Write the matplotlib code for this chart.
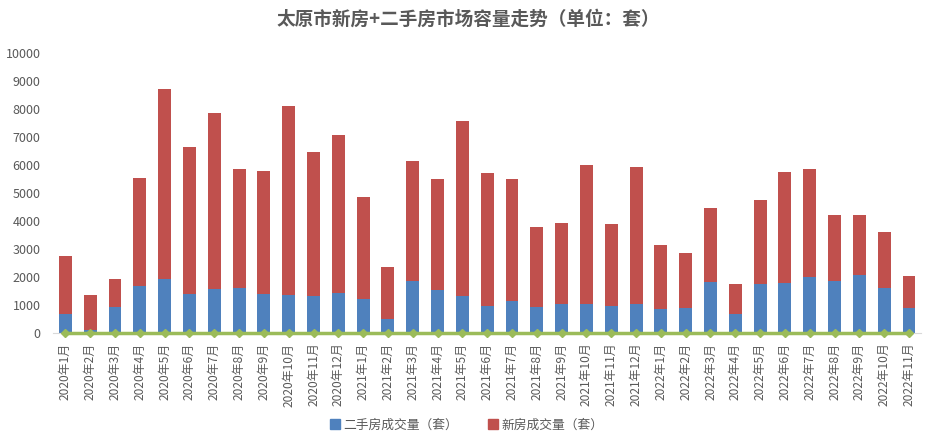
import numpy as np
import matplotlib
matplotlib.use("Agg")
import matplotlib.pyplot as plt
from matplotlib.lines import Line2D

plt.rcParams['font.family'] = ['Noto Sans CJK SC', 'DejaVu Sans']

# 月份
months = [f"{y}年{m}月" for y in (2020, 2021) for m in range(1, 13)] + \
         [f"2022年{m}月" for m in range(1, 12)]

# 二手房成交量（套）
second_hand = [666, 95, 915, 1677, 1914, 1379, 1558, 1605, 1379, 1344, 1320, 1415,
               1201, 487, 1843, 1534, 1320, 963, 1130, 915, 1034, 1034, 963, 1034,
               844, 892, 1819, 678, 1748, 1772, 1986, 1843, 2057, 1605, 892]

# 合计（柱顶高度）
total = [2735, 1344, 1914, 5517, 8692, 6623, 7836, 5838, 5767, 8085, 6444, 7051,
         4839, 2342, 6123, 5481, 7550, 5695, 5481, 3769, 3912, 5981, 3876, 5909,
         3127, 2842, 4447, 1736, 4732, 5731, 5838, 4197, 4197, 3591, 2021]

# 新房成交量（套）
new_house = [t - s for t, s in zip(total, second_hand)]

# 第三个系列，全部为 0（图上的绿线）
third = [0] * len(months)

blue = '#4F81BD'
red = '#C0504D'
green = '#9BBB59'
gray = '#595959'

fig = plt.figure(figsize=(9.36, 4.46), dpi=100)
ax = fig.add_axes([0.0566, 0.2534, 0.9278, 0.6284])

x = np.arange(len(months))
ax.bar(x, second_hand, width=0.52, color=blue, label='二手房成交量（套）')
ax.bar(x, new_house, width=0.52, bottom=second_hand, color=red, label='新房成交量（套）')
ax.plot(x, third, color=green, lw=2.5, marker='D', ms=4, zorder=5, clip_on=False)

ax.set_xlim(-0.5, len(months) - 0.5)
ax.set_ylim(0, 10000)
ax.set_yticks(range(0, 10001, 1000))
ax.tick_params(axis='y', length=0, pad=9, labelsize=9, labelcolor=gray)
ax.set_xticks(x)
ax.set_xticklabels(months, rotation=90, fontsize=8.6, color=gray)
ax.tick_params(axis='x', length=0, pad=7)

for side in ('top', 'right', 'left'):
    ax.spines[side].set_visible(False)
ax.spines['bottom'].set_color('#D9D9D9')

fig.suptitle('太原市新房+二手房市场容量走势（单位：套）', x=0.5, y=0.978,
             fontsize=13.4, fontweight='bold', color=gray)

handles = [Line2D([], [], ls='none', marker='s', ms=7, color=blue),
           Line2D([], [], ls='none', marker='s', ms=7, color=red)]
fig.legend(handles, ['二手房成交量（套）', '新房成交量（套）'], loc='center',
           bbox_to_anchor=(0.498, 0.047), ncol=2, frameon=False, fontsize=9.2,
           handletextpad=0.2, columnspacing=2.2, handlelength=1.0,
           labelcolor=gray)

fig.savefig('out.png', dpi=100)
